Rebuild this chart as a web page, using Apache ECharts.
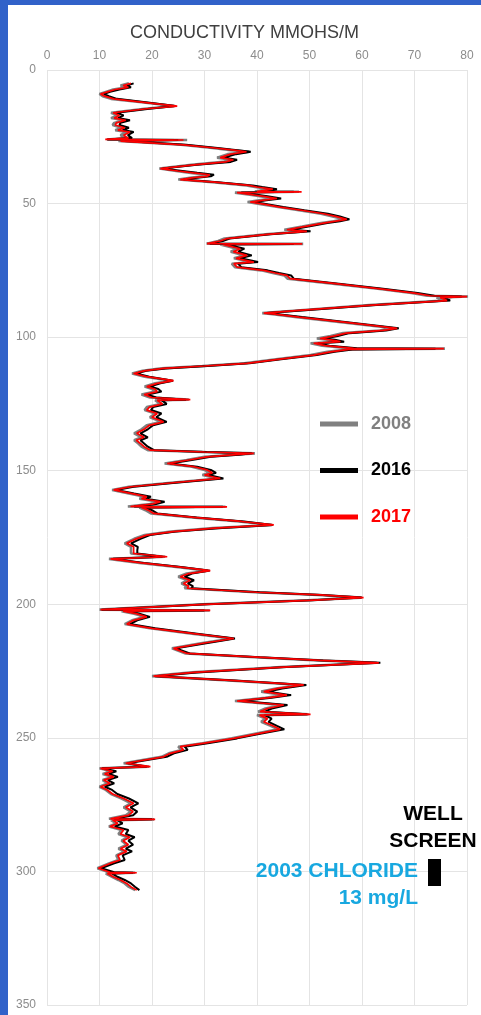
<!DOCTYPE html>
<html>
<head>
<meta charset="utf-8">
<script src="https://cdn.jsdelivr.net/npm/echarts@6/dist/echarts.min.js"></script>
<style>
  html, body { margin: 0; padding: 0; background: #3162c9; width: 481px; height: 1015px; overflow: hidden; }
  #chart { position: absolute; left: 8px; top: 5px; width: 473px; height: 1010px; background: #fff; }
</style>
</head>
<body>
<div id="chart"></div>
<script>
// depth (m) down the hole, shared by the three logs
const depth = [
  5.0, 5.8, 6.5, 7.3, 8.2, 9.0, 9.8, 10.8, 12.0, 13.5,
  14.5, 16.0, 17.0, 18.0, 18.8, 19.8, 20.6, 21.6, 22.5, 23.2,
  24.4, 25.5, 26.0, 26.2, 26.6, 28.0, 29.2, 30.0, 30.6, 31.5,
  32.8, 33.6, 34.4, 35.5, 36.9, 37.8, 38.5, 39.2, 39.8, 40.3,
  41.0, 42.0, 43.2, 43.8, 44.6, 45.5, 45.6, 45.9, 46.8, 47.3,
  48.1, 48.8, 49.4, 50.3, 51.3, 52.5, 53.8, 54.8, 55.9, 56.6,
  57.3, 58.6, 59.8, 60.4, 61.5, 63.1, 64.0, 65.0, 65.1, 65.3,
  66.9, 68.0, 69.4, 70.5, 71.9, 72.5, 73.8, 75.0, 76.0, 76.9,
  78.1, 80.0, 81.9, 83.5, 84.5, 84.8, 85.2, 86.3, 88.0, 90.0,
  91.0, 91.3, 92.5, 94.5, 96.7, 97.5, 98.5, 99.6, 100.5, 101.0,
  101.7, 102.3, 103.2, 104.2, 104.3, 104.6, 105.5, 106.7, 108.3, 109.8,
  110.8, 111.7, 112.6, 113.6, 114.8, 116.3, 117.3, 118.5, 119.4, 120.4,
  121.5, 122.6, 123.4, 123.6, 125.0, 126.2, 127.3, 128.6, 130.0, 131.7,
  133.0, 134.5, 136.0, 137.5, 138.6, 139.8, 141.0, 142.3, 143.0, 143.5,
  144.0, 144.8, 146.0, 147.3, 148.5, 149.7, 150.8, 151.6, 152.9, 154.5,
  156.0, 157.2, 158.5, 159.7, 160.5, 161.6, 162.5, 163.4, 163.5, 163.8,
  165.0, 166.0, 167.5, 169.0, 170.3, 171.5, 172.8, 174.1, 175.5, 177.2,
  178.5, 179.7, 181.0, 182.2, 183.0, 184.5, 186.0, 187.4, 188.5, 189.7,
  191.0, 192.2, 193.2, 194.0, 195.5, 196.5, 197.5, 198.5, 200.0, 201.5,
  202.0, 202.3, 202.6, 203.5, 204.7, 206.0, 207.4, 209.0, 211.0, 212.8,
  214.5, 216.5, 218.4, 219.8, 221.0, 221.9, 223.5, 225.5, 226.9, 228.5,
  230.2, 231.5, 232.7, 234.0, 235.0, 236.2, 237.7, 239.0, 240.2, 241.2,
  241.5, 242.8, 244.0, 245.5, 246.8, 248.5, 250.2, 252.0, 253.3, 254.5,
  255.8, 257.1, 259.5, 260.8, 261.4, 262.5, 263.5, 264.6, 265.8, 267.0,
  268.3, 269.5, 271.0, 272.7, 274.5, 276.0, 277.6, 279.0, 280.3, 280.5,
  280.8, 282.0, 283.2, 284.5, 286.0, 287.2, 288.5, 290.0, 291.5, 292.5,
  294.0, 295.7, 297.0, 298.8, 300.3, 300.5, 300.8, 302.0, 303.2, 304.5,
  305.8, 307.0
];

const cond2008 = [
  15.6, 14.0, 15.2, 12.6, 11.2, 10.0, 10.6, 12.2, 17.6, 24.2,
  18.6, 12.2, 13.4, 12.2, 14.6, 12.8, 12.5, 14.2, 13.0, 15.2,
  14.0, 15.0, 11.4, 26.7, 13.6, 25.5, 31.5, 35.0, 38.5, 34.4,
  32.4, 35.0, 33.5, 27.5, 21.4, 24.6, 27.4, 30.4, 30.0, 27.6,
  25.0, 31.5, 38.0, 39.6, 42.4, 39.6, 48.0, 35.8, 39.0, 40.8,
  43.2, 40.4, 38.2, 41.0, 44.0, 48.0, 52.2, 54.4, 56.6, 54.6,
  52.2, 48.6, 45.2, 49.0, 41.6, 33.8, 32.6, 30.4, 48.8, 33.0,
  36.2, 35.0, 37.6, 35.6, 39.0, 35.2, 35.8, 40.8, 43.0, 45.2,
  45.8, 54.4, 63.0, 69.4, 72.4, 80.2, 74.2, 75.6, 61.4, 47.6,
  41.0, 42.6, 47.6, 56.4, 66.0, 63.4, 56.4, 54.0, 51.4, 53.4,
  55.2, 50.2, 52.4, 57.8, 75.8, 57.0, 53.4, 50.2, 43.6, 37.6,
  29.6, 21.8, 18.2, 16.2, 18.6, 23.6, 20.6, 18.6, 20.0, 20.6,
  18.0, 19.6, 27.0, 20.6, 21.6, 19.0, 18.6, 20.6, 19.6, 21.8,
  19.0, 18.0, 16.6, 18.0, 16.6, 17.4, 18.0, 19.2, 29.6, 39.6,
  35.6, 30.0, 26.6, 22.4, 27.6, 30.0, 31.0, 29.6, 32.6, 23.6,
  15.6, 12.4, 15.6, 18.6, 17.6, 21.2, 19.6, 15.4, 34.0, 17.6,
  19.0, 19.8, 27.6, 36.6, 42.8, 31.6, 23.6, 18.6, 16.6, 14.8,
  16.0, 16.0, 16.0, 22.5, 11.8, 17.6, 24.6, 30.6, 26.6, 25.0,
  26.8, 25.6, 26.6, 26.2, 39.6, 51.6, 59.8, 49.6, 29.6, 14.6,
  10.0, 31.0, 14.2, 16.6, 18.6, 16.2, 14.8, 19.6, 27.6, 35.2,
  29.6, 23.8, 26.4, 39.6, 51.6, 62.8, 44.6, 27.6, 20.0, 34.6,
  48.4, 43.6, 40.8, 45.2, 41.6, 35.8, 44.6, 41.6, 40.2, 49.8,
  40.0, 41.6, 40.8, 42.6, 44.0, 39.6, 35.2, 29.6, 25.0, 25.6,
  23.2, 21.8, 14.6, 19.4, 10.0, 12.2, 10.6, 12.4, 10.6, 11.6,
  10.0, 11.2, 12.2, 14.2, 16.0, 14.6, 16.0, 15.0, 11.8, 20.4,
  12.2, 13.2, 11.8, 14.2, 13.6, 15.4, 14.2, 15.2, 13.6, 14.8,
  13.2, 13.6, 11.8, 9.6, 11.8, 16.8, 11.2, 12.4, 13.6, 14.8,
  15.6, 16.8
];

const cond2016 = [
  16.5, 15.2, 16.0, 13.8, 12.0, 10.8, 11.8, 13.3, 18.4, 24.5,
  19.5, 13.2, 14.6, 13.5, 15.8, 14.0, 13.8, 15.6, 14.4, 16.5,
  15.4, 16.2, 11.5, 25.0, 14.8, 26.5, 32.5, 36.3, 38.8, 36.0,
  33.8, 36.2, 35.0, 28.5, 22.0, 25.8, 28.6, 31.8, 31.2, 28.6,
  26.0, 32.5, 39.2, 41.0, 43.8, 40.8, 47.0, 37.0, 40.3, 42.0,
  44.6, 41.8, 39.5, 42.2, 45.0, 49.0, 53.5, 55.8, 57.6, 55.8,
  53.4, 49.8, 46.4, 50.2, 42.6, 34.8, 33.5, 31.0, 47.0, 34.2,
  37.6, 36.4, 39.0, 36.8, 40.2, 36.4, 37.0, 42.0, 44.2, 46.5,
  47.0, 55.6, 64.0, 70.6, 73.8, 79.0, 75.5, 76.8, 62.6, 48.5,
  41.8, 43.6, 48.6, 57.6, 67.0, 64.6, 57.6, 55.4, 52.8, 54.8,
  56.6, 51.6, 53.8, 59.0, 74.0, 58.2, 54.8, 51.4, 44.6, 38.6,
  30.6, 22.6, 18.9, 17.0, 19.5, 24.0, 21.6, 19.6, 21.2, 21.8,
  19.2, 20.8, 26.5, 21.8, 22.8, 20.2, 19.8, 21.8, 20.8, 22.8,
  20.2, 19.2, 17.8, 19.2, 17.8, 18.5, 19.2, 20.4, 30.5, 39.0,
  36.6, 31.2, 27.6, 23.4, 28.6, 31.2, 32.2, 30.8, 33.6, 24.5,
  16.5, 13.2, 16.6, 19.8, 18.8, 22.4, 20.8, 16.6, 33.5, 18.8,
  20.2, 21.0, 28.5, 37.5, 43.0, 32.6, 24.5, 19.6, 17.8, 16.0,
  17.3, 17.2, 17.2, 22.0, 12.6, 18.5, 25.5, 31.0, 27.6, 26.2,
  28.0, 26.8, 27.8, 27.5, 40.5, 52.5, 60.0, 50.6, 30.5, 15.4,
  10.4, 30.0, 15.2, 17.6, 19.6, 17.2, 15.8, 20.6, 28.6, 35.8,
  30.6, 24.6, 27.2, 40.5, 52.6, 63.5, 45.6, 28.5, 20.6, 35.6,
  49.4, 44.8, 42.2, 46.5, 42.8, 37.0, 45.8, 42.8, 41.5, 49.5,
  41.4, 42.8, 42.2, 43.8, 45.2, 40.6, 36.2, 30.6, 26.2, 26.8,
  24.2, 22.8, 15.4, 19.0, 10.5, 13.2, 11.8, 13.5, 11.6, 12.8,
  11.0, 12.4, 13.4, 15.6, 17.4, 15.9, 17.2, 16.4, 12.8, 20.0,
  13.4, 14.4, 12.9, 15.5, 15.0, 16.7, 15.5, 16.4, 15.0, 16.2,
  14.4, 14.8, 12.8, 10.3, 12.8, 16.4, 12.4, 13.4, 14.8, 16.0,
  16.8, 17.6
];

const cond2017 = [
  16.0, 14.5, 15.5, 13.0, 11.5, 10.2, 11.0, 12.7, 18.0, 24.8,
  19.0, 12.6, 13.8, 12.8, 15.0, 13.2, 13.0, 14.8, 13.5, 15.8,
  14.6, 15.5, 11.1, 26.0, 14.0, 26.0, 32.0, 35.6, 38.0, 35.0,
  33.0, 35.5, 34.0, 28.0, 21.6, 25.0, 27.9, 31.0, 30.5, 28.0,
  25.4, 32.0, 38.5, 40.0, 43.0, 40.0, 48.5, 36.2, 39.5, 41.3,
  43.8, 41.0, 38.7, 41.5, 44.4, 48.5, 52.7, 55.0, 57.1, 55.0,
  52.7, 49.0, 45.7, 49.5, 42.0, 34.3, 33.0, 30.5, 48.6, 33.5,
  36.8, 35.5, 38.1, 36.0, 39.4, 35.6, 36.2, 41.3, 43.5, 45.7,
  46.3, 55.0, 63.5, 70.0, 73.0, 80.0, 74.9, 76.2, 62.0, 48.0,
  41.3, 43.0, 48.0, 57.0, 66.7, 64.0, 57.0, 54.6, 52.0, 54.0,
  55.9, 50.8, 53.0, 58.4, 75.6, 57.5, 54.0, 50.8, 44.0, 38.1,
  30.0, 22.2, 18.5, 16.5, 19.0, 24.1, 21.0, 19.0, 20.5, 21.0,
  18.5, 20.0, 27.3, 21.0, 22.0, 19.5, 19.0, 21.0, 20.0, 22.2,
  19.5, 18.5, 17.1, 18.5, 17.0, 17.8, 18.5, 19.7, 30.0, 39.4,
  36.0, 30.5, 27.0, 22.9, 28.0, 30.5, 31.5, 30.0, 33.0, 24.0,
  16.0, 12.7, 16.0, 19.0, 18.0, 21.6, 20.0, 15.9, 34.3, 18.0,
  19.5, 20.3, 28.0, 37.0, 43.2, 32.0, 24.0, 19.0, 17.0, 15.2,
  16.5, 16.5, 16.5, 22.9, 12.1, 18.0, 25.0, 31.1, 27.0, 25.4,
  27.3, 26.0, 27.0, 26.7, 40.0, 52.0, 60.3, 50.0, 30.0, 15.0,
  10.2, 31.1, 14.5, 17.0, 19.0, 16.5, 15.2, 20.0, 28.0, 35.6,
  30.0, 24.1, 26.7, 40.0, 52.0, 63.2, 45.0, 28.0, 20.3, 35.0,
  48.9, 44.0, 41.3, 45.7, 42.0, 36.2, 45.1, 42.0, 40.6, 50.2,
  40.5, 42.0, 41.3, 43.0, 44.4, 40.0, 35.6, 30.0, 25.4, 26.0,
  23.5, 22.2, 15.0, 19.7, 10.2, 12.5, 11.0, 12.7, 10.8, 12.0,
  10.2, 11.5, 12.5, 14.6, 16.5, 15.0, 16.4, 15.5, 12.1, 20.6,
  12.5, 13.5, 12.0, 14.6, 14.0, 15.8, 14.5, 15.5, 14.0, 15.2,
  13.5, 13.9, 12.0, 9.8, 12.0, 17.1, 11.5, 12.6, 14.0, 15.2,
  16.0, 17.1
];

const years = ['2008', '2016', '2017'];
const colors = ['#808080', '#000000', '#ff0000'];

const myChart = echarts.init(document.getElementById('chart'));

const toPairs = (vals) => vals.map((v, i) => [v, depth[i]]);

const label = (text, x, y, align, fill) => ({
  type: 'text',
  z: 100,
  x: x,
  y: y,
  style: {
    text: text,
    align: align,
    verticalAlign: 'middle',
    font: 'bold 21px "Liberation Sans"',
    fill: fill,
  },
});

const option = {
  animation: false,
  backgroundColor: '#fff',
  color: colors,
  title: {
    text: 'CONDUCTIVITY MMOHS/M',
    left: 'center',
    top: 14,
    textStyle: {
      fontFamily: 'Liberation Sans',
      fontSize: 18,
      fontWeight: 'normal',
      color: '#404040',
    },
  },
  grid: { left: 39, right: 14, top: 65, bottom: 10 },
  legend: {
    orient: 'vertical',
    left: 307,
    top: 405,
    itemWidth: 38,
    itemHeight: 5,
    itemGap: 28.5,
    icon: 'rect',
    selectedMode: false,
    lineStyle: { width: 0 },
    itemStyle: { borderWidth: 0 },
    textStyle: {
      fontFamily: 'Liberation Sans',
      fontSize: 18,
      fontWeight: 'bold',
      padding: [2, 0, 0, 8],
    },
    data: years.map((y, i) => ({ name: y, textStyle: { color: colors[i] } })),
  },
  xAxis: {
    type: 'value',
    position: 'top',
    min: 0,
    max: 80,
    interval: 10,
    axisLine: { show: false },
    axisTick: { show: false },
    axisLabel: { color: '#8c8c8c', fontSize: 12, margin: 8, fontFamily: 'Liberation Sans' },
    splitLine: { lineStyle: { color: '#e4e4e4', width: 1 } },
  },
  yAxis: {
    type: 'value',
    inverse: true,
    min: 0,
    max: 350,
    interval: 50,
    axisLine: { show: false },
    axisTick: { show: false },
    axisLabel: { color: '#8c8c8c', fontSize: 12, margin: 11, fontFamily: 'Liberation Sans' },
    splitLine: { lineStyle: { color: '#e4e4e4', width: 1 } },
  },
  series: [
    {
      name: '2008',
      type: 'line',
      showSymbol: false,
      data: toPairs(cond2008),
      lineStyle: { width: 2.6, color: '#808080' },
    },
    {
      name: '2016',
      type: 'line',
      showSymbol: false,
      data: toPairs(cond2016),
      lineStyle: { width: 2, color: '#000000' },
    },
    {
      name: '2017',
      type: 'line',
      showSymbol: false,
      data: toPairs(cond2017),
      lineStyle: { width: 1.7, color: '#ff0000' },
    },
  ],
  graphic: [
    label('WELL', 425, 809, 'center', '#000'),
    label('SCREEN', 425, 836, 'center', '#000'),
    label('2003 CHLORIDE', 410, 866, 'right', '#18a8e0'),
    label('13 mg/L', 410, 893, 'right', '#18a8e0'),
    {
      type: 'rect',
      z: 100,
      shape: { x: 420, y: 854, width: 13, height: 27 },
      style: { fill: '#000' },
    },
  ],
};

myChart.setOption(option);
</script>
</body>
</html>
